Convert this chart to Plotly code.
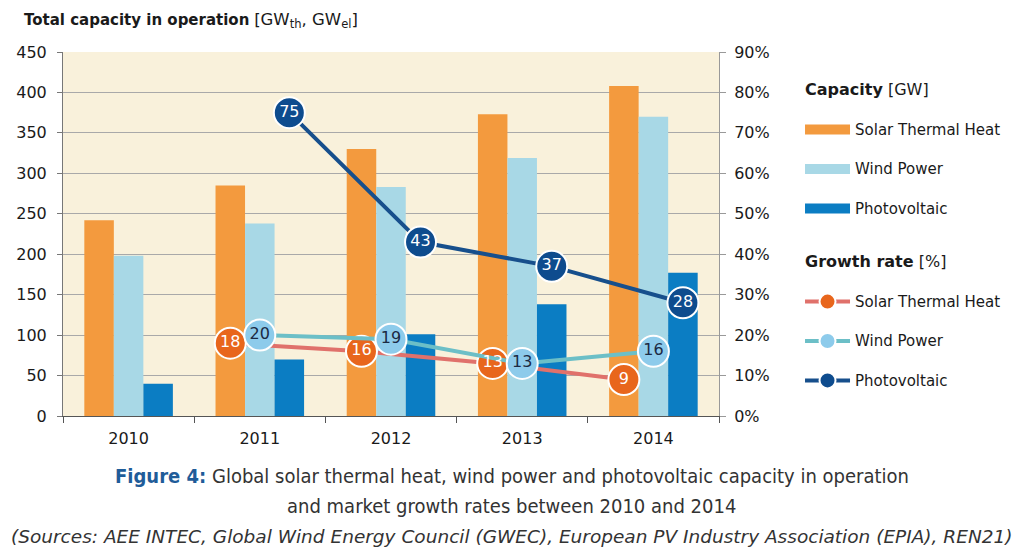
import plotly.graph_objects as go

years = ["2010", "2011", "2012", "2013", "2014"]
solar_thermal_gw = [242, 285, 330, 373, 408]
wind_power_gw = [198, 238, 283, 319, 370]
photovoltaic_gw = [40, 70, 101, 138, 177]

solar_thermal_growth = [None, 18, 16, 13, 9]
wind_power_growth = [None, 20, 19, 13, 16]
photovoltaic_growth = [None, 75, 43, 37, 28]

series_names = ["Solar Thermal Heat", "Wind Power", "Photovoltaic"]
bar_colors = ["#F39A3E", "#A8D8E6", "#0B7DC3"]
marker_colors = ["#E8661C", "#8DCBEB", "#0E4C8E"]
line_colors = ["#E0716B", "#6CBFC7", "#174F8C"]
text_colors = ["white", "#1B2A44", "white"]

FONT = "DejaVu Sans"
idx = list(range(len(years)))
bw = 0.225
offsets = [-1.5 * bw, -0.5 * bw, 0.5 * bw]


def legend_label(name):
    return " <br><span style='font-size:15px'>" + name + "</span>"


fig = go.Figure()

capacity = [solar_thermal_gw, wind_power_gw, photovoltaic_gw]
growth = [solar_thermal_growth, wind_power_growth, photovoltaic_growth]

for k in range(3):
    fig.add_trace(go.Bar(
        x=idx, y=capacity[k], width=bw, offset=offsets[k],
        marker=dict(color=bar_colors[k], line=dict(width=0)),
        name=series_names[k], showlegend=False,
        customdata=years, hovertemplate="%{customdata}: %{y} GW<extra>" + series_names[k] + "</extra>",
    ))

# legend entries for capacity bars (wide swatches)
for k in range(3):
    fig.add_trace(go.Scatter(
        x=[None], y=[None], mode="lines",
        line=dict(color=bar_colors[k], width=10),
        name=legend_label(series_names[k]), legendgroup="cap",
        legendgrouptitle=dict(text="<b>Capacity</b> [GW]", font=dict(size=16, color="#1a1a1a", family=FONT)),
        hoverinfo="skip",
    ))

for k in range(3):
    xs = [i + offsets[k] + bw / 2 for i in idx]
    fig.add_trace(go.Scatter(
        x=xs, y=growth[k], yaxis="y2", mode="lines+markers",
        line=dict(color=line_colors[k], width=4),
        marker=dict(size=31, color=marker_colors[k], line=dict(color="white", width=2)),
        name=legend_label(series_names[k]), legendgroup="growth",
        legendgrouptitle=dict(text="<b>Growth rate</b> [%]", font=dict(size=16, color="#1a1a1a", family=FONT)),
        hovertemplate="%{y}%<extra>" + series_names[k] + "</extra>",
    ))

for k in range(3):
    pts = [(i + offsets[k] + bw / 2, v) for i, v in zip(idx, growth[k]) if v is not None]
    fig.add_trace(go.Scatter(
        x=[p[0] for p in pts], y=[p[1] for p in pts], yaxis="y2", mode="text",
        text=[str(p[1]) for p in pts],
        textposition="middle center",
        textfont=dict(size=16, color=text_colors[k], family=FONT),
        showlegend=False, hoverinfo="skip",
    ))

fig.update_layout(
    width=1024, height=557,
    margin=dict(l=63, r=305, t=52, b=141),
    paper_bgcolor="white",
    plot_bgcolor="#F9F1DB",
    font=dict(family=FONT, size=15, color="#1a1a1a"),
    barmode="overlay",
    xaxis=dict(
        range=[-0.5, 4.5], tickvals=idx, ticktext=years, ticks="",
        showgrid=False, zeroline=False,
        showline=True, linecolor="#555555", linewidth=1,
        tickfont=dict(size=16), ticklabelstandoff=8,
        minor=dict(tickvals=[i - 0.5 for i in range(len(years) + 1)], ticks="outside",
                   ticklen=6, tickcolor="#555555", showgrid=False),
    ),
    yaxis=dict(
        range=[0, 450], dtick=50, showgrid=True, gridcolor="#A9A9A9", gridwidth=1,
        zeroline=False, showline=True, linecolor="#777777", ticks="outside",
        ticklen=5, tickcolor="#777777", tickfont=dict(size=16), ticklabelstandoff=7,
    ),
    yaxis2=dict(
        range=[0, 90], dtick=10, ticksuffix="%", overlaying="y", side="right",
        showgrid=False, zeroline=False, showline=True, linecolor="#999999",
        ticks="outside", ticklen=6, tickcolor="#999999", tickfont=dict(size=16),
        ticklabelstandoff=5,
    ),
    legend=dict(
        x=1.1235, xanchor="left", y=0.945, yanchor="top",
        traceorder="grouped", tracegroupgap=30, valign="bottom",
        itemwidth=45, font=dict(size=14, color="#1a1a1a"),
        bgcolor="rgba(0,0,0,0)",
    ),
    showlegend=True,
    annotations=[
        dict(xref="paper", yref="paper", x=-0.0625, y=1.0, yshift=32, xanchor="left", yanchor="middle",
             text="<b>Total capacity in operation</b> <span style='font-size:16.5px'>[GW<sub>th</sub>, GW<sub>el</sub>]</span>",
             showarrow=False, font=dict(size=15, color="#1a1a1a")),
        dict(xref="paper", yref="paper", x=0.684, y=0, yshift=-60, xanchor="center", yanchor="middle",
             text="<b><span style='color:#1F5C99'>Figure 4:</span></b> Global solar thermal heat, wind power and photovoltaic capacity in operation",
             showarrow=False, font=dict(size=20, color="#333333", family="DejaVu Sans Condensed")),
        dict(xref="paper", yref="paper", x=0.684, y=0, yshift=-90, xanchor="center", yanchor="middle",
             text="and market growth rates between 2010 and 2014",
             showarrow=False, font=dict(size=20, color="#333333", family="DejaVu Sans Condensed")),
        dict(xref="paper", yref="paper", x=0.684, y=0, yshift=-120, xanchor="center", yanchor="middle",
             text="<i>(Sources: AEE INTEC, Global Wind Energy Council (GWEC), European PV Industry Association (EPIA), REN21)</i>",
             showarrow=False, font=dict(size=18.5, color="#333333")),
    ],
)

fig.write_html("out.html", config={"displayModeBar": False},
               post_script="document.body.style.margin='0';")
